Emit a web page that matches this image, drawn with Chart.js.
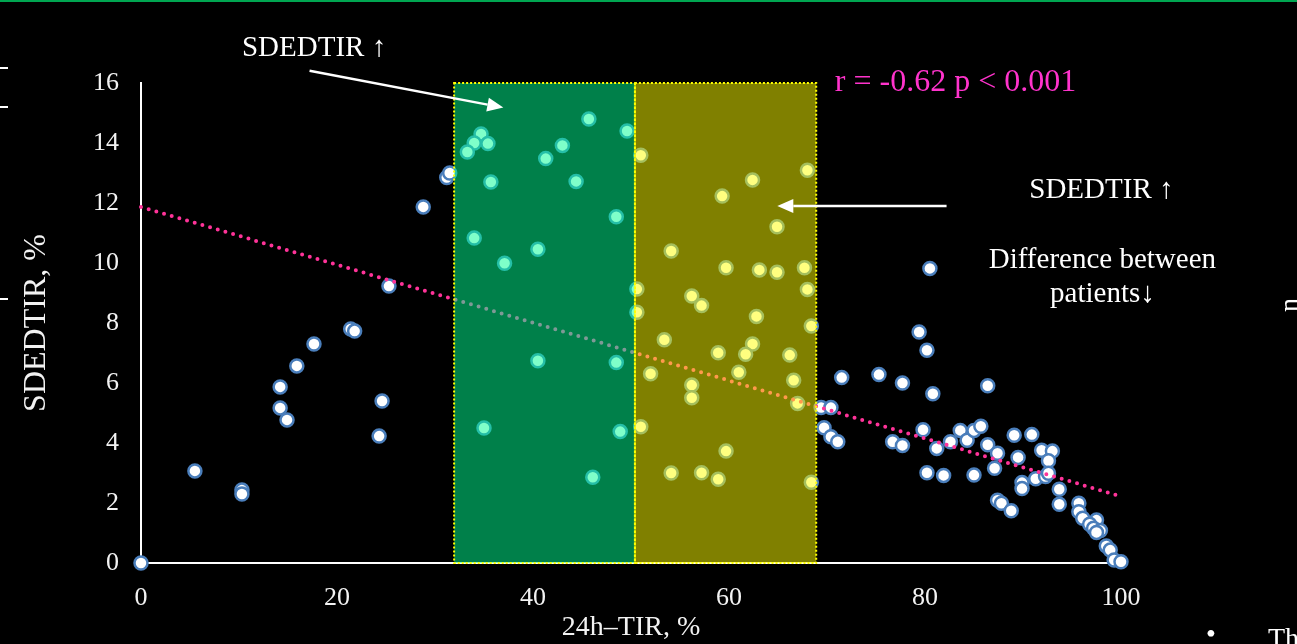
<!DOCTYPE html>
<html>
<head>
<meta charset="utf-8">
<script src="https://cdn.jsdelivr.net/npm/chart.js@4.4.1/dist/chart.umd.min.js"></script>
<style>
  html, body { margin: 0; padding: 0; background: #000; width: 1297px; height: 644px; overflow: hidden; }
  #wrap { position: relative; width: 1297px; height: 644px; }
  #chart { position: absolute; left: 0; top: 0; }
  .topline { position: absolute; left: 0; top: 0; width: 1297px; height: 2px; background: #00a651; }
  .mark { position: absolute; left: 0; width: 8px; height: 2px; background: #fff; }
  .frag { position: absolute; color: #fff; font-family: "Liberation Serif", "Times New Roman", serif; font-size: 28px; line-height: 1; }
</style>
</head>
<body>
<div id="wrap">
  <canvas id="chart" width="1297" height="644"></canvas>
  <div class="topline"></div>
  <div class="mark" style="top:67px"></div>
  <div class="mark" style="top:106px"></div>
  <div class="mark" style="top:298px"></div>
  <div class="frag" style="left:1282px;top:291px;transform:rotate(-90deg);">n</div>
  <div class="frag" style="left:1206px;top:620px;">•</div>
  <div class="frag" style="left:1268px;top:624px;">Th</div>
</div>
<script>
var lowTir  = [0, 5.5, 10.3, 10.3, 14.2, 14.2, 14.9, 15.9, 17.65, 21.4, 21.8, 24.6, 24.3, 25.3, 28.8, 31.2, 31.5];
var lowSd   = [0, 3.07, 2.43, 2.3, 5.87, 5.17, 4.77, 6.57, 7.3, 7.8, 7.73, 5.4, 4.23, 9.23, 11.87, 12.85, 13.0];

var greenTir = [34.7, 34.0, 35.4, 33.3, 35.7, 41.3, 43.0, 45.7, 49.6, 44.4, 48.5, 34.0, 40.5, 37.1, 40.5, 48.5, 35.0, 48.9, 46.1, 50.6, 50.6];
var greenSd  = [14.3, 14.0, 13.98, 13.7, 12.7, 13.48, 13.92, 14.8, 14.4, 12.72, 11.54, 10.83, 10.46, 9.99, 6.74, 6.68, 4.5, 4.38, 2.86, 9.13, 8.36];

var oliveTir = [51.0, 51.0, 62.4, 68.0, 59.3, 64.9, 54.1, 59.7, 63.1, 64.9, 67.7, 68.0, 56.2, 57.2, 62.8, 68.4, 53.4, 62.4, 58.9, 61.7, 66.2, 61.0, 52.0, 66.6, 56.2, 56.2, 67.0, 59.7, 54.1, 57.2, 58.9, 68.4];
var oliveSd  = [13.59, 4.54, 12.77, 13.09, 12.23, 11.21, 10.4, 9.84, 9.77, 9.69, 9.84, 9.12, 8.9, 8.58, 8.22, 7.9, 7.44, 7.3, 7.01, 6.96, 6.93, 6.36, 6.31, 6.09, 5.93, 5.51, 5.32, 3.73, 3.0, 3.01, 2.79, 2.69];

var highTir = [80.5, 79.4, 80.2, 71.5, 75.3, 77.7, 80.8, 86.4, 69.4, 70.4, 69.7, 70.4, 71.1, 76.7, 77.7, 79.8, 81.2, 82.6, 83.6, 84.3,
               85.0, 85.7, 86.4, 87.4, 87.1, 80.2, 81.9, 85.0, 89.1, 90.9, 89.5, 91.9, 93.0, 92.6, 91.3, 92.3, 92.6, 89.9, 89.9, 93.7,
               93.7, 87.4, 87.8, 88.8, 95.7, 95.7, 96.1, 97.5, 96.8, 97.2, 97.9, 97.5, 98.5, 98.9, 99.3, 100];
var highSd  = [9.82, 7.7, 7.09, 6.18, 6.28, 6.0, 5.64, 5.91, 5.18, 5.18, 4.51, 4.21, 4.04, 4.04, 3.92, 4.44, 3.82, 4.04, 4.42, 4.09,
               4.42, 4.56, 3.94, 3.66, 3.16, 3.01, 2.92, 2.93, 4.26, 4.28, 3.52, 3.76, 3.73, 3.41, 2.81, 2.88, 2.99, 2.68, 2.48, 2.46,
               1.96, 2.09, 1.99, 1.74, 1.99, 1.71, 1.49, 1.43, 1.29, 1.16, 1.08, 1.02, 0.57, 0.43, 0.1, 0.04];

// regression line ends
var trendTir = [0, 99.5];
var trendSd  = [11.87, 2.27];

// shaded TIR bands : bounds on x, then the y span
var bandEdges = [31.95, 50.4, 68.9];
var bandSpan  = [0, 16];

var xTicks = [0, 20, 40, 60, 80, 100];
var yTicks = [0, 2, 4, 6, 8, 10, 12, 14, 16];

var SERIF = "'Liberation Serif', 'Times New Roman', serif";

function toPoints(xs, ys) {
    return xs.map(function (x, i) { return { x: x, y: ys[i] }; });
}

var allPoints = [].concat(
    toPoints(lowTir, lowSd),
    toPoints(greenTir, greenSd),
    toPoints(oliveTir, oliveSd),
    toPoints(highTir, highSd)
);

// half transparent bands laid over the points, like the slide
var bandPlugin = {
    id: 'bands',
    afterDatasetsDraw: function (chart) {
        var ctx = chart.ctx, x = chart.scales.x, y = chart.scales.y;
        var fills = ['rgba(0, 255, 148, 0.5)', 'rgba(255, 255, 0, 0.5)'];
        var top = y.getPixelForValue(bandSpan[1]);
        var bottom = y.getPixelForValue(bandSpan[0]);
        ctx.save();
        for (var i = 0; i < bandEdges.length - 1; i++) {
            var l = x.getPixelForValue(bandEdges[i]);
            var r = x.getPixelForValue(bandEdges[i + 1]);
            ctx.fillStyle = fills[i];
            ctx.fillRect(l, top, r - l, bottom - top);
        }
        ctx.strokeStyle = '#ffff00';
        ctx.lineWidth = 2;
        ctx.setLineDash([2, 2]);
        for (var j = 0; j < bandEdges.length - 1; j++) {
            var l2 = x.getPixelForValue(bandEdges[j]);
            var r2 = x.getPixelForValue(bandEdges[j + 1]);
            ctx.strokeRect(l2, top, r2 - l2, bottom - top);
        }
        ctx.restore();
    }
};

function drawArrow(ctx, x1, y1, x2, y2) {
    var a = Math.atan2(y2 - y1, x2 - x1);
    var len = 16, half = 7;
    var bx = x2 - len * Math.cos(a), by = y2 - len * Math.sin(a);
    ctx.beginPath();
    ctx.moveTo(x1, y1);
    ctx.lineTo(bx, by);
    ctx.stroke();
    ctx.beginPath();
    ctx.moveTo(x2, y2);
    ctx.lineTo(bx + half * Math.sin(a), by - half * Math.cos(a));
    ctx.lineTo(bx - half * Math.sin(a), by + half * Math.cos(a));
    ctx.closePath();
    ctx.fill();
}

// notes and arrows, placed in data units
var notePlugin = {
    id: 'notes',
    afterDraw: function (chart) {
        var ctx = chart.ctx, x = chart.scales.x, y = chart.scales.y;
        ctx.save();
        ctx.fillStyle = '#ffffff';
        ctx.strokeStyle = '#ffffff';
        ctx.lineWidth = 2.5;
        drawArrow(ctx, x.getPixelForValue(17.2), y.getPixelForValue(16.41), x.getPixelForValue(36.97), y.getPixelForValue(15.18));
        drawArrow(ctx, x.getPixelForValue(82.2), y.getPixelForValue(11.9), x.getPixelForValue(64.93), y.getPixelForValue(11.9));

        ctx.textBaseline = 'alphabetic';
        ctx.font = '29px ' + SERIF;
        ctx.textAlign = 'left';
        ctx.fillText('SDEDTIR ↑', x.getPixelForValue(10.3), y.getPixelForValue(16.9));
        ctx.textAlign = 'center';
        ctx.fillText('SDEDTIR ↑', x.getPixelForValue(98), y.getPixelForValue(12.17));
        ctx.fillText('Difference between', x.getPixelForValue(98.1), y.getPixelForValue(9.83));
        ctx.fillText('patients↓', x.getPixelForValue(98.1), y.getPixelForValue(8.7));

        ctx.fillStyle = '#ff33cc';
        ctx.font = '32px ' + SERIF;
        ctx.textAlign = 'left';
        ctx.fillText('r = -0.62 p < 0.001', x.getPixelForValue(70.8), y.getPixelForValue(15.73));
        ctx.restore();
    }
};

new Chart(document.getElementById('chart'), {
    type: 'scatter',
    data: {
        datasets: [
            {
                type: 'line',
                data: toPoints(trendTir, trendSd),
                borderColor: '#ff3399',
                borderWidth: 4,
                borderDash: [0, 8],
                borderCapStyle: 'round',
                pointRadius: 0,
                fill: false,
                clip: false
            },
            {
                data: allPoints,
                backgroundColor: '#ffffff',
                borderColor: '#4a7ebb',
                borderWidth: 2.5,
                pointRadius: 6.5,
                pointHoverRadius: 6.5,
                clip: false
            }
        ]
    },
    options: {
        responsive: false,
        animation: false,
        events: [],
        layout: { padding: { left: 16, top: 83, right: 176, bottom: 0 } },
        plugins: {
            legend: { display: false },
            tooltip: { enabled: false }
        },
        scales: {
            x: {
                type: 'linear',
                min: 0,
                max: 100,
                afterBuildTicks: function (s) { s.ticks = xTicks.map(function (v) { return { value: v }; }); },
                afterFit: function (s) { s.height = 81; },
                grid: { display: false, drawTicks: false },
                border: { display: true, color: '#ffffff', width: 2 },
                ticks: { color: '#f2f2f2', padding: 20, maxRotation: 0, font: { family: SERIF, size: 26 } },
                title: { display: true, text: '24h–TIR, %', color: '#f2f2f2', padding: { top: 0, bottom: 0 }, font: { family: SERIF, size: 28 } }
            },
            y: {
                type: 'linear',
                min: 0,
                max: 16,
                afterBuildTicks: function (s) { s.ticks = yTicks.map(function (v) { return { value: v }; }); },
                afterFit: function (s) { s.width = 125; },
                grid: { display: false, drawTicks: false },
                border: { display: true, color: '#ffffff', width: 2 },
                ticks: { color: '#f2f2f2', padding: 22, font: { family: SERIF, size: 26 } },
                title: { display: true, text: 'SDEDTIR, %', color: '#f2f2f2', padding: { top: 1, bottom: 0 }, font: { family: SERIF, size: 32 } }
            }
        }
    },
    plugins: [bandPlugin, notePlugin]
});
</script>
</body>
</html>
